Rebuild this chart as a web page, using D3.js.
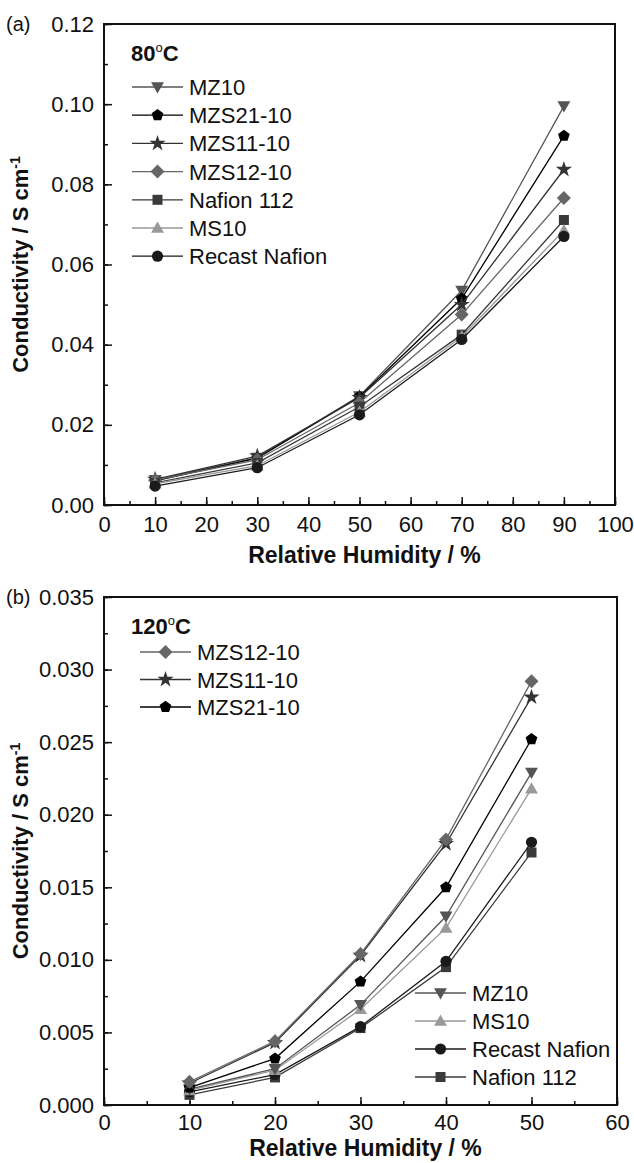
<!doctype html>
<html lang="en">
<head>
<meta charset="utf-8" />
<title>Conductivity vs relative humidity</title>
<script src="https://cdn.jsdelivr.net/npm/d3@7"></script>
<style>
  html, body { margin: 0; background: #fff; }
  svg { display: block; font-family: "Liberation Sans", Arial, sans-serif; }
</style>
</head>
<body>
<div id="chart"></div>
<script>
// ---- data ----
const rhA = [10, 30, 50, 70, 90];
const seriesA = ["MZ10", "MZS21-10", "MZS11-10", "MZS12-10", "Nafion 112", "MS10", "Recast Nafion"];
const mz10A      = [0.0063, 0.0118, 0.0272, 0.0535, 0.0995];
const mzs2110A   = [0.0060, 0.0117, 0.0270, 0.0515, 0.0921];
const mzs1110A   = [0.0064, 0.0122, 0.0268, 0.0500, 0.0837];
const mzs1210A   = [0.0062, 0.0113, 0.0255, 0.0475, 0.0766];
const nafion112A = [0.0055, 0.0105, 0.0245, 0.0425, 0.0711];
const ms10A      = [0.0053, 0.0098, 0.0232, 0.0420, 0.0685];
const recastA    = [0.0047, 0.0093, 0.0225, 0.0413, 0.0670];

const rhB = [10, 20, 30, 40, 50];
const mz10B      = [0.0011, 0.0025, 0.0069, 0.0130, 0.0229];
const mzs2110B   = [0.0012, 0.0032, 0.0085, 0.0150, 0.0252];
const mzs1110B   = [0.0015, 0.0043, 0.0103, 0.0180, 0.0281];
const mzs1210B   = [0.0016, 0.0044, 0.0104, 0.0183, 0.0292];
const nafion112B = [0.0007, 0.0019, 0.0053, 0.0095, 0.0174];
const ms10B      = [0.0010, 0.0024, 0.0066, 0.0122, 0.0218];
const recastB    = [0.0009, 0.0021, 0.0054, 0.0099, 0.0181];

const legendB1 = ["MZS12-10", "MZS11-10", "MZS21-10"];
const legendB2 = ["MZ10", "MS10", "Recast Nafion", "Nafion 112"];

const xTicksA = [0, 10, 20, 30, 40, 50, 60, 70, 80, 90, 100];
const yTicksA = [0, 0.02, 0.04, 0.06, 0.08, 0.10, 0.12];
const xTicksB = [0, 10, 20, 30, 40, 50, 60];
const yTicksB = [0, 0.005, 0.010, 0.015, 0.020, 0.025, 0.030, 0.035];

// look of each sample
const style = {
  "MZ10":          { shape: "tridown",  color: "#555" },
  "MZS21-10":      { shape: "pentagon", color: "#000" },
  "MZS11-10":      { shape: "star",     color: "#333" },
  "MZS12-10":      { shape: "diamond",  color: "#666" },
  "Nafion 112":    { shape: "square",   color: "#3a3a3a" },
  "MS10":          { shape: "triup",    color: "#999" },
  "Recast Nafion": { shape: "circle",   color: "#1a1a1a" }
};

const W = 634, H = 1163;
const svg = d3.select("#chart").append("svg").attr("width", W).attr("height", H);

function markerPath(shape, r) {
  if (shape === "circle") return d3.symbol(d3.symbolCircle, Math.PI * r * r)();
  if (shape === "square") return d3.symbol(d3.symbolSquare, 3.2 * r * r)();
  if (shape === "star") return d3.symbol(d3.symbolStar, 2.6 * r * r)();
  if (shape === "diamond") {
    const s = r * 1.25;
    return `M0,${-s}L${s},0L0,${s}L${-s},0Z`;
  }
  if (shape === "triup" || shape === "tridown") {
    const k = shape === "triup" ? 1 : -1;
    const s = r * 1.15;
    return `M0,${-k * s}L${s},${k * s * 0.75}L${-s},${k * s * 0.75}Z`;
  }
  if (shape === "pentagon") {
    const pts = d3.range(5).map(i => {
      const a = -Math.PI / 2 + i * 2 * Math.PI / 5;
      return [Math.cos(a) * r * 1.1, Math.sin(a) * r * 1.1];
    });
    return "M" + pts.join("L") + "Z";
  }
}

function panel(opt) {
  const g = svg.append("g");
  const x = d3.scaleLinear().domain(opt.xDomain).range([opt.left, opt.right]);
  const y = d3.scaleLinear().domain(opt.yDomain).range([opt.bottom, opt.top]);

  // minor + major ticks, pointing inward
  const xMinor = d3.range(opt.xDomain[0], opt.xDomain[1] + 0.001, opt.xMinor);
  const yMinor = d3.range(opt.yDomain[0], opt.yDomain[1] + opt.yMinor / 10, opt.yMinor);

  g.append("g").attr("transform", `translate(0,${opt.bottom})`)
    .call(d3.axisBottom(x).tickValues(xMinor).tickSize(-4).tickFormat(""))
    .call(a => a.select(".domain").remove());
  g.append("g").attr("transform", `translate(0,${opt.bottom})`)
    .call(d3.axisBottom(x).tickValues(opt.xTicks).tickSize(-8).tickPadding(opt.xPad).tickFormat(d3.format("d")))
    .call(a => a.select(".domain").remove())
    .call(a => a.selectAll("text").attr("font-size", 22).attr("fill", "#111"));
  g.append("g").attr("transform", `translate(${opt.left},0)`)
    .call(d3.axisLeft(y).tickValues(yMinor).tickSize(-4).tickFormat(""))
    .call(a => a.select(".domain").remove());
  g.append("g").attr("transform", `translate(${opt.left},0)`)
    .call(d3.axisLeft(y).tickValues(opt.yTicks).tickSize(-8).tickPadding(10).tickFormat(d3.format(opt.yFormat)))
    .call(a => a.select(".domain").remove())
    .call(a => a.selectAll("text").attr("font-size", 22).attr("fill", "#111"));
  g.selectAll(".tick line").attr("stroke", "#111").attr("stroke-width", 1.5);

  g.append("rect")
    .attr("x", opt.left).attr("y", opt.top)
    .attr("width", opt.right - opt.left).attr("height", opt.bottom - opt.top)
    .attr("fill", "none").attr("stroke", "#111").attr("stroke-width", 2);

  // series
  const line = d3.line().x(d => x(d[0])).y(d => y(d[1]));
  opt.series.forEach(s => {
    const st = style[s.name];
    const pts = opt.xs.map((v, i) => [v, s.values[i]]);
    g.append("path").attr("d", line(pts))
      .attr("fill", "none").attr("stroke", st.color).attr("stroke-width", 1.3);
    g.selectAll(null).data(pts).join("path")
      .attr("transform", d => `translate(${x(d[0])},${y(d[1])})`)
      .attr("d", markerPath(st.shape, 5.6))
      .attr("fill", st.color);
  });

  // legends
  opt.legends.forEach(L => {
    L.names.forEach((n, i) => {
      const st = style[n];
      const yy = L.y + i * L.dy;
      g.append("line").attr("x1", L.x).attr("x2", L.x + 51).attr("y1", yy).attr("y2", yy)
        .attr("stroke", st.color).attr("stroke-width", 1.3);
      g.append("path").attr("transform", `translate(${L.x + 25.5},${yy})`)
        .attr("d", markerPath(st.shape, 5.6)).attr("fill", st.color);
      g.append("text").attr("x", L.x + 57).attr("y", yy + 8)
        .attr("font-size", 22).attr("fill", "#111").text(n);
    });
  });

  // temperature label
  const t = g.append("text").attr("x", opt.left + 27).attr("y", opt.top + 37)
    .attr("font-size", 22).attr("font-weight", "bold").attr("fill", "#111");
  t.append("tspan").text(opt.temp);
  t.append("tspan").attr("dy", -9).attr("font-size", 13).attr("font-weight", "normal").text("o");
  t.append("tspan").attr("dy", 9).text("C");

  // panel tag
  g.append("text").attr("x", 6).attr("y", opt.top + 7).attr("font-size", 20).attr("fill", "#111").text(opt.tag);

  // axis titles
  g.append("text").attr("x", (opt.left + opt.right) / 2 + 5).attr("y", opt.bottom + opt.titleGap)
    .attr("text-anchor", "middle").attr("font-size", 23).attr("font-weight", "bold").attr("fill", "#111")
    .text("Relative Humidity / %");
  const yt = g.append("text")
    .attr("transform", `translate(28,${(opt.top + opt.bottom) / 2}) rotate(-90)`)
    .attr("text-anchor", "middle").attr("font-size", 22).attr("font-weight", "bold").attr("fill", "#111");
  yt.append("tspan").text("Conductivity / S cm");
  yt.append("tspan").attr("dy", -8).attr("font-size", 14).text("-1");
}

panel({
  tag: "(a)", temp: "80",
  left: 104, right: 615, top: 24, bottom: 505,
  xDomain: [0, 100], yDomain: [0, 0.12],
  xTicks: xTicksA, yTicks: yTicksA, xMinor: 5, yMinor: 0.01, yFormat: ".2f",
  xPad: 11, titleGap: 58,
  xs: rhA,
  series: [
    { name: "MZ10", values: mz10A },
    { name: "MZS21-10", values: mzs2110A },
    { name: "MZS11-10", values: mzs1110A },
    { name: "MZS12-10", values: mzs1210A },
    { name: "Nafion 112", values: nafion112A },
    { name: "MS10", values: ms10A },
    { name: "Recast Nafion", values: recastA }
  ],
  legends: [{ names: seriesA, x: 132, y: 87, dy: 28.2 }]
});

panel({
  tag: "(b)", temp: "120",
  left: 104, right: 617, top: 597, bottom: 1105,
  xDomain: [0, 60], yDomain: [0, 0.035],
  xTicks: xTicksB, yTicks: yTicksB, xMinor: 5, yMinor: 0.0025, yFormat: ".3f",
  xPad: 9, titleGap: 51,
  xs: rhB,
  series: [
    { name: "Nafion 112", values: nafion112B },
    { name: "Recast Nafion", values: recastB },
    { name: "MS10", values: ms10B },
    { name: "MZ10", values: mz10B },
    { name: "MZS21-10", values: mzs2110B },
    { name: "MZS11-10", values: mzs1110B },
    { name: "MZS12-10", values: mzs1210B }
  ],
  legends: [
    { names: legendB1, x: 140, y: 652, dy: 27.5 },
    { names: legendB2, x: 415, y: 993, dy: 28 }
  ]
});
</script>
</body>
</html>
